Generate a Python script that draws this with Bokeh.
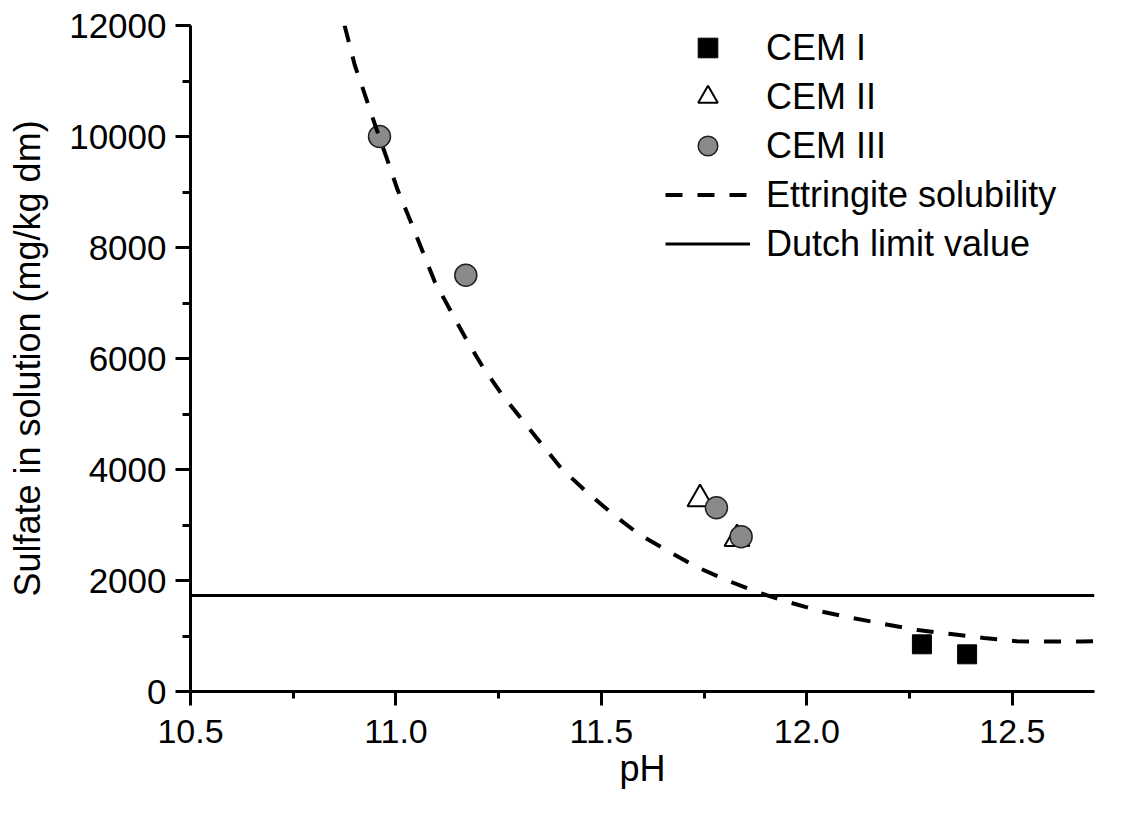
from bokeh.plotting import figure
from bokeh.models import (SingleIntervalTicker, NumeralTickFormatter, BasicTickFormatter,
                          Legend, LegendItem, Range1d)
from bokeh.embed import file_html
from bokeh.resources import INLINE

# ---- data ----
X_MIN, X_MAX = 10.5, 12.7
Y_MIN, Y_MAX = 0, 12000

cem1_ph = [12.28, 12.39]
cem1_so4 = [850, 670]

cem2_ph = [11.74, 11.83]
cem2_so4 = [3470, 2750]

cem3_ph = [10.96, 11.17, 11.78, 11.84]
cem3_so4 = [10000, 7500, 3310, 2790]

ettr_ph = [10.875, 10.90, 10.926, 10.951, 10.978, 11.004, 11.034, 11.094, 11.132, 11.170,
           11.211, 11.257, 11.401, 11.465, 11.527, 11.590, 11.660, 11.730, 11.803, 11.881,
           11.958, 12.035, 12.112, 12.189, 12.270, 12.351, 12.431, 12.510, 12.588, 12.670, 12.70]
ettr_so4 = [12000, 11280, 10720, 10170, 9600, 9040, 8500, 7390, 6875, 6360,
            5850, 5360, 4030, 3590, 3200, 2840, 2540, 2250, 2010, 1785,
            1605, 1442, 1323, 1215, 1107, 1035, 963, 905, 900, 900, 905]

dutch_limit = 1730

FONT = "Liberation Sans"

p = figure(frame_width=904, frame_height=666, output_backend="svg", toolbar_location=None,
           x_range=Range1d(X_MIN, X_MAX), y_range=Range1d(Y_MIN, Y_MAX),
           min_border_left=190, min_border_top=25, min_border_right=37, min_border_bottom=105,
           background_fill_color="white", border_fill_color="white")
p.outline_line_color = None
p.xgrid.visible = False
p.ygrid.visible = False

r_dutch = p.line(x=[X_MIN, X_MAX], y=[dutch_limit, dutch_limit], line_color="black", line_width=3)
r1 = p.scatter(cem1_ph, cem1_so4, marker="square", size=19, fill_color="black", line_color="black", line_width=1)
r2 = p.scatter(cem2_ph, cem2_so4, marker="triangle", size=25, fill_color="white", line_color="black", line_width=2)
r3 = p.scatter(cem3_ph, cem3_so4, marker="circle", size=22, fill_color="#8a8a8a", line_color="#222222", line_width=1.5)
r_ettr = p.line(ettr_ph, ettr_so4, line_color="black", line_width=4, line_dash="17 15")

for ax in (p.xaxis[0], p.yaxis[0]):
    ax.axis_line_width = 3
    ax.major_tick_line_width = 3
    ax.minor_tick_line_width = 3
    ax.major_tick_in = 0
    ax.minor_tick_in = 0
    ax.major_label_text_font = FONT
    ax.major_label_text_color = "black"
    ax.axis_label_text_font = FONT
    ax.axis_label_text_font_size = "36px"
    ax.axis_label_text_font_style = "normal"
    ax.axis_label_text_color = "black"

p.xaxis[0].ticker = SingleIntervalTicker(interval=0.5, num_minor_ticks=2)
p.xaxis[0].formatter = NumeralTickFormatter(format="0.0")
p.xaxis[0].major_label_text_font_size = "34px"
p.xaxis[0].major_tick_out = 14
p.xaxis[0].minor_tick_out = 7
p.xaxis[0].major_label_standoff = 14
p.xaxis[0].axis_label = "pH"
p.xaxis[0].axis_label_standoff = 2

p.yaxis[0].ticker = SingleIntervalTicker(interval=2000, num_minor_ticks=2)
p.yaxis[0].formatter = BasicTickFormatter(use_scientific=False)
p.yaxis[0].major_label_text_font_size = "35px"
p.yaxis[0].major_tick_out = 15
p.yaxis[0].minor_tick_out = 8
p.yaxis[0].major_label_standoff = 9
p.yaxis[0].axis_label = "Sulfate in solution (mg/kg dm)"
p.yaxis[0].axis_label_standoff = 18

legend = Legend(items=[
    LegendItem(label="CEM I", renderers=[r1]),
    LegendItem(label="CEM II", renderers=[r2]),
    LegendItem(label="CEM III", renderers=[r3]),
    LegendItem(label="Ettringite solubility", renderers=[r_ettr]),
    LegendItem(label="Dutch limit value", renderers=[r_dutch]),
], location=(475, 423))
legend.padding = 0
legend.margin = 0
legend.spacing = 0
legend.glyph_width = 85
legend.glyph_height = 49
legend.label_height = 49
legend.label_standoff = 16
legend.label_text_font = FONT
legend.label_text_font_size = "36px"
legend.label_text_color = "black"
legend.border_line_color = None
legend.background_fill_alpha = 0
p.add_layout(legend, "center")

open("out.html", "w").write(file_html(p, INLINE))
